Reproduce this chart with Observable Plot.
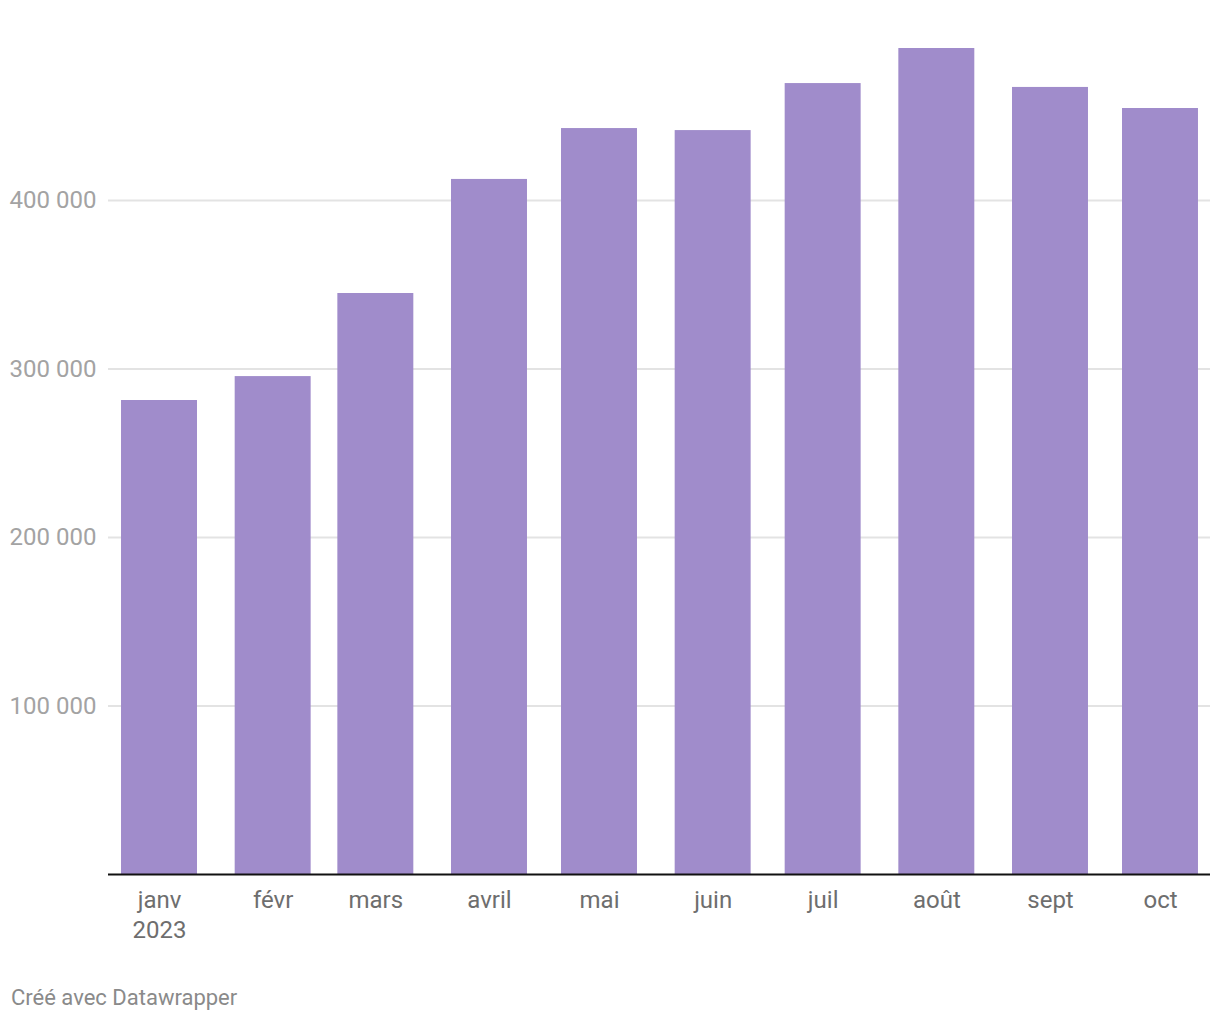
<!DOCTYPE html>
<html>
<head>
<meta charset="utf-8">
<script src="https://cdn.jsdelivr.net/npm/d3@7"></script>
<script src="https://cdn.jsdelivr.net/npm/@observablehq/plot@0.6"></script>
<style>
  body { margin: 0; background: #fff; font-family: Roboto, sans-serif; }
  #chart { width: 1220px; }
  #caption { margin: 25px 0 0 11px; font-size: 22px; line-height: 26px; color: #8a8a8a; font-family: Roboto, sans-serif; }
</style>
</head>
<body>
<div id="chart"></div>
<div id="caption">Créé avec Datawrapper</div>
<script>
const months = ["2023-01-01", "2023-02-01", "2023-03-01", "2023-04-01", "2023-05-01", "2023-06-01", "2023-07-01", "2023-08-01", "2023-09-01", "2023-10-01"];
const monthLabels = ["janv\n2023", "févr", "mars", "avril", "mai", "juin", "juil", "août", "sept", "oct"];
const values = [281300, 295500, 344800, 412500, 442700, 441500, 469400, 490200, 467100, 454600];
const yTicks = [100000, 200000, 300000, 400000];

const DAY = 86400000;
const data = months.map((m, i) => ({date: new Date(m + "T00:00:00Z"), label: monthLabels[i], value: values[i]}));
const half = 10.36 * DAY;
const labelOf = new Map(data.map(d => [+d.date, d.label]));

const x0 = new Date(+data[0].date - 13.91 * DAY);
const x1 = new Date(+data[data.length - 1].date + 13.64 * DAY);

const chart = Plot.plot({
  width: 1220,
  height: 960,
  marginLeft: 108,
  marginRight: 10,
  marginTop: 31.5,
  marginBottom: 86,
  style: {fontFamily: "Roboto, sans-serif", background: "#fff"},
  x: {type: "utc", domain: [x0, x1]},
  y: {domain: [0, 500000]},
  marks: [
    Plot.gridY(yTicks, {stroke: "#e3e3e3", strokeOpacity: 1, strokeWidth: 2}),
    Plot.rectY(data, {
      x1: d => new Date(+d.date - half),
      x2: d => new Date(+d.date + half),
      y: "value",
      fill: "#a08ccb"
    }),
    Plot.ruleY([0], {stroke: "#111", strokeWidth: 2}),
    Plot.axisY(yTicks, {
      tickSize: 0,
      tickPadding: 12,
      fontSize: 24,
      fill: "#a3a3a3",
      label: null,
      tickFormat: d => d3.format(",")(d).replace(/,/g, " ")
    }),
    Plot.axisX(data.map(d => d.date), {
      tickSize: 0,
      tickPadding: 12,
      fontSize: 24,
      lineHeight: 1.25,
      fill: "#6e6e6e",
      label: null,
      tickFormat: d => labelOf.get(+d)
    })
  ]
});
document.getElementById("chart").appendChild(chart);
</script>
</body>
</html>
